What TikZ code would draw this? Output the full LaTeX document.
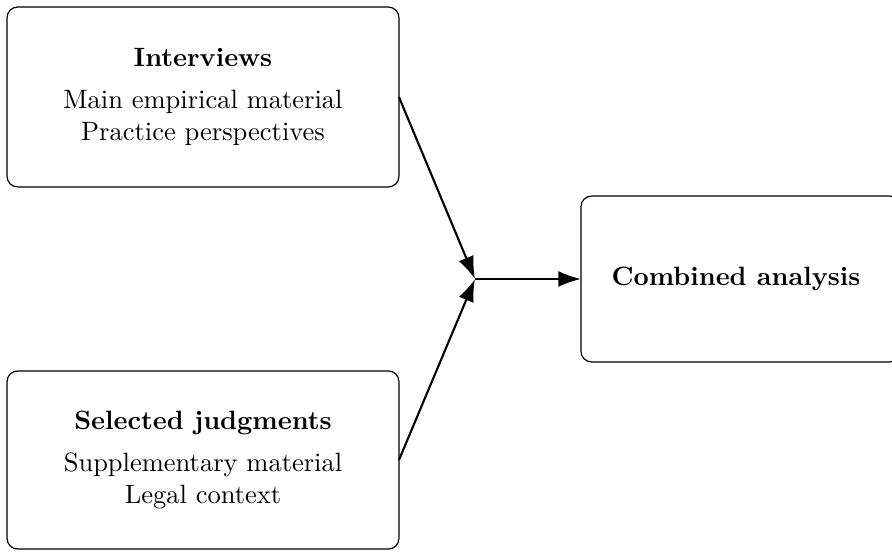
\documentclass[tikz,border=0pt]{standalone}
\usetikzlibrary{arrows.meta}
\begin{document}
\begin{tikzpicture}[x=0.3774pt,y=0.3774pt,
  box/.style={draw, line width=0.45pt, rounded corners=4pt, inner sep=0pt, outer sep=0pt, align=center},
  conn/.style={line width=0.8pt, -{Latex[length=8.5pt,width=6pt]}}]
\useasboundingbox (0,0) rectangle (892,551);
\clip (0,0) rectangle (892,551);
\node[box, minimum width=147.9pt, minimum height=67.9pt] (int) at (203,454)
  {\textbf{Interviews}\\[4pt] Main empirical material\\ Practice perspectives};
\node[box, minimum width=147.9pt, minimum height=67.2pt] (jud) at (203,91)
  {\textbf{Selected judgments}\\[4pt] Supplementary material\\ Legal context};
\node[box, minimum width=120.4pt, minimum height=62.6pt] (comb) at (740.5,272)
  {\textbf{Combined analysis}\kern3.4pt};
\coordinate (j) at (475,272);
\draw[conn] (int.east) -- (j);
\draw[conn] (jud.east) -- (j);
\draw[conn] (j) -- (comb.west);
\end{tikzpicture}
\end{document}
